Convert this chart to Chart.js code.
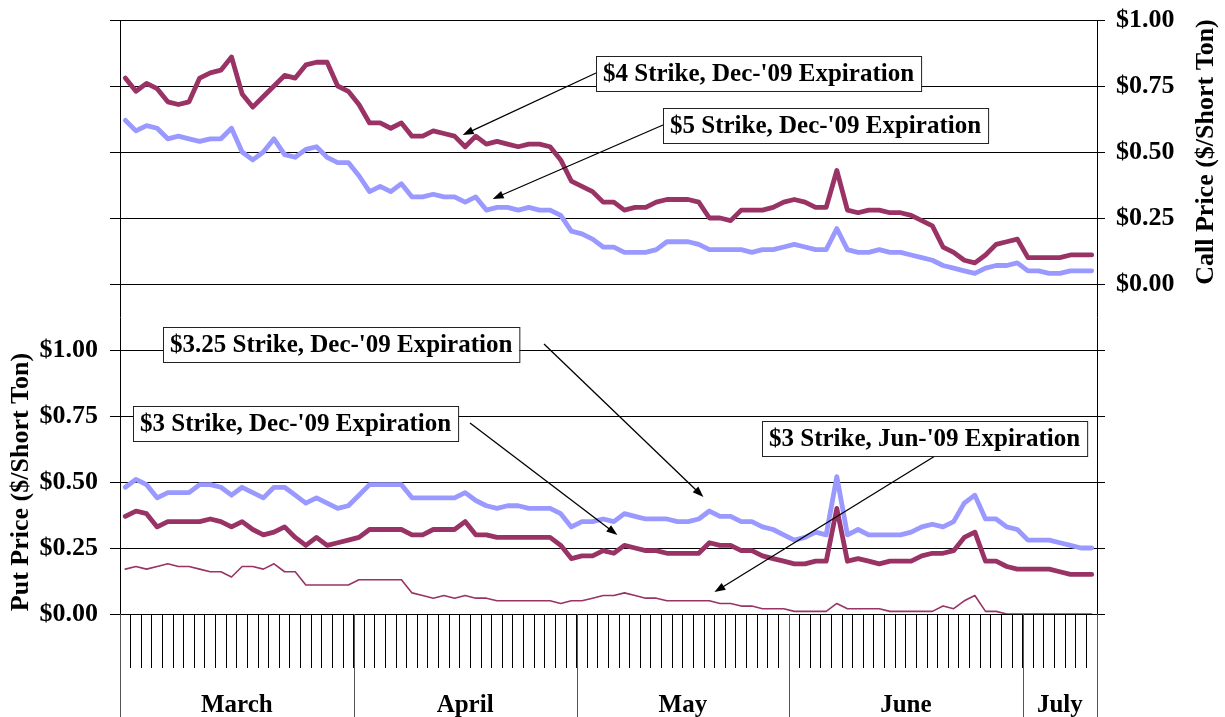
<!DOCTYPE html>
<html>
<head>
<meta charset="utf-8">
<script src="https://cdn.jsdelivr.net/npm/chart.js@4.4.1/dist/chart.umd.min.js"></script>
<style>
  html, body { margin: 0; padding: 0; background: #fff; }
  #wrap { width: 1225px; height: 717px; }
</style>
</head>
<body>
<div id="wrap"><canvas id="chart" width="1225" height="717"></canvas></div>
<script>
// trading days, March - July 2009
const months = ['March', 'April', 'May', 'June', 'July'];
const marchDays = [2,3,4,5,6,9,10,11,12,13,16,17,18,19,20,23,24,25,26,27,30,31];
const aprilDays = [1,2,3,6,7,8,9,13,14,15,16,17,20,21,22,23,24,27,28,29,30];
const mayDays = [1,4,5,6,7,8,11,12,13,14,15,18,19,20,21,22,26,27,28,29];
const juneDays = [1,2,3,4,5,8,9,10,11,12,15,16,17,18,19,22,23,24,25,26,29,30];
const julyDays = [1,2,6,7,8,9,10];

// call prices ($/short ton)
const call4Dec = [
  0.78,0.73,0.76,0.74,0.69,0.68,0.69,0.78,0.80,0.81,
  0.86,0.72,0.67,0.71,0.75,0.79,0.78,0.83,0.84,0.84,
  0.75,0.73,0.68,0.61,0.61,0.59,0.61,0.56,0.56,0.58,
  0.57,0.56,0.52,0.56,0.53,0.54,0.53,0.52,0.53,0.53,
  0.52,0.47,0.39,0.37,0.35,0.31,0.31,0.28,0.29,0.29,
  0.31,0.32,0.32,0.32,0.31,0.25,0.25,0.24,0.28,0.28,
  0.28,0.29,0.31,0.32,0.31,0.29,0.29,0.43,0.28,0.27,
  0.28,0.28,0.27,0.27,0.26,0.24,0.22,0.14,0.12,0.09,
  0.08,0.11,0.15,0.16,0.17,0.10,0.10,0.10,0.10,0.11,
  0.11,0.11
];
const call5Dec = [
  0.62,0.58,0.60,0.59,0.55,0.56,0.55,0.54,0.55,0.55,
  0.59,0.50,0.47,0.50,0.55,0.49,0.48,0.51,0.52,0.48,
  0.46,0.46,0.41,0.35,0.37,0.35,0.38,0.33,0.33,0.34,
  0.33,0.33,0.31,0.33,0.28,0.29,0.29,0.28,0.29,0.28,
  0.28,0.26,0.20,0.19,0.17,0.14,0.14,0.12,0.12,0.12,
  0.13,0.16,0.16,0.16,0.15,0.13,0.13,0.13,0.13,0.12,
  0.13,0.13,0.14,0.15,0.14,0.13,0.13,0.21,0.13,0.12,
  0.12,0.13,0.12,0.12,0.11,0.10,0.09,0.07,0.06,0.05,
  0.04,0.06,0.07,0.07,0.08,0.05,0.05,0.04,0.04,0.05,
  0.05,0.05
];

// put prices ($/short ton)
const put325Dec = [
  0.48,0.51,0.49,0.44,0.46,0.46,0.46,0.49,0.49,0.48,
  0.45,0.48,0.46,0.44,0.48,0.48,0.45,0.42,0.44,0.42,
  0.40,0.41,0.45,0.49,0.49,0.49,0.49,0.44,0.44,0.44,
  0.44,0.44,0.46,0.43,0.41,0.40,0.41,0.41,0.40,0.40,
  0.40,0.38,0.33,0.35,0.35,0.36,0.35,0.38,0.37,0.36,
  0.36,0.36,0.35,0.35,0.36,0.39,0.37,0.37,0.35,0.35,
  0.33,0.32,0.30,0.28,0.29,0.31,0.30,0.52,0.30,0.32,
  0.30,0.30,0.30,0.30,0.31,0.33,0.34,0.33,0.35,0.42,
  0.45,0.36,0.36,0.33,0.32,0.28,0.28,0.28,0.27,0.26,
  0.25,0.25
];
const put3Dec = [
  0.37,0.39,0.38,0.33,0.35,0.35,0.35,0.35,0.36,0.35,
  0.33,0.35,0.32,0.30,0.31,0.33,0.29,0.26,0.29,0.26,
  0.27,0.28,0.29,0.32,0.32,0.32,0.32,0.30,0.30,0.32,
  0.32,0.32,0.35,0.30,0.30,0.29,0.29,0.29,0.29,0.29,
  0.29,0.26,0.21,0.22,0.22,0.24,0.23,0.26,0.25,0.24,
  0.24,0.23,0.23,0.23,0.23,0.27,0.26,0.26,0.24,0.24,
  0.22,0.21,0.20,0.19,0.19,0.20,0.20,0.40,0.20,0.21,
  0.20,0.19,0.20,0.20,0.20,0.22,0.23,0.23,0.24,0.29,
  0.31,0.20,0.20,0.18,0.17,0.17,0.17,0.17,0.16,0.15,
  0.15,0.15
];
const put3Jun = [
  0.17,0.18,0.17,0.18,0.19,0.18,0.18,0.17,0.16,0.16,
  0.14,0.18,0.18,0.17,0.19,0.16,0.16,0.11,0.11,0.11,
  0.11,0.11,0.13,0.13,0.13,0.13,0.13,0.08,0.07,0.06,
  0.07,0.06,0.07,0.06,0.06,0.05,0.05,0.05,0.05,0.05,
  0.05,0.04,0.05,0.05,0.06,0.07,0.07,0.08,0.07,0.06,
  0.06,0.05,0.05,0.05,0.05,0.05,0.04,0.04,0.03,0.03,
  0.02,0.02,0.02,0.01,0.01,0.01,0.01,0.04,0.02,0.02,
  0.02,0.02,0.01,0.01,0.01,0.01,0.01,0.03,0.02,0.05,
  0.07,0.01,0.01,0.00,0.00,0.00,0.00,0.00,0.00,0.00,
  0.00,0.00
];

const putTicks = [0, 0.25, 0.5, 0.75, 1.0];
const callTicks = [0, 0.25, 0.5, 0.75, 1.0];

// calls sit on the upper half of the plot, shifted up by this much
const CALL_OFFSET = 1.25;

const monthDays = [marchDays, aprilDays, mayDays, juneDays, julyDays];
const categories = [];
monthDays.forEach((days, m) => days.forEach(d => categories.push((m + 3) + '/' + d)));

const PLUM = '#993366';
const LAVENDER = '#9999FF';
const SERIF = '"Liberation Serif", "Times New Roman", serif';

const notes = [
  { text: "$4 Strike, Dec-'09 Expiration", left: 596, top: 56, from: [596, 73], tip: [31.77, 0.564 + CALL_OFFSET] },
  { text: "$5 Strike, Dec-'09 Expiration", left: 663, top: 108, from: [663, 125], tip: [34.59, 0.322 + CALL_OFFSET] },
  { text: "$3.25 Strike, Dec-'09 Expiration", left: 163, top: 327, from: [544, 344], tip: [54.44, 0.443] },
  { text: "$3 Strike, Dec-'09 Expiration", left: 133, top: 406, from: [470, 423], tip: [46.34, 0.299] },
  { text: "$3 Strike, Jun-'09 Expiration", left: 762, top: 421, from: [935, 456], tip: [55.47, 0.083] }
];

const extras = {
  id: 'extras',
  afterDraw(chart) {
    const ctx = chart.ctx;
    const area = chart.chartArea;
    const xs = chart.scales.x;
    const ys = chart.scales.y;
    const H = chart.height;
    ctx.save();

    // month separators and names
    let start = 0;
    ctx.strokeStyle = '#555';
    ctx.lineWidth = 1;
    ctx.fillStyle = '#000';
    ctx.font = 'bold 25px ' + SERIF;
    ctx.textAlign = 'center';
    ctx.textBaseline = 'alphabetic';
    const edges = [area.left];
    monthDays.forEach(days => {
      start += days.length;
      if (start < categories.length) {
        edges.push((xs.getPixelForValue(start - 1) + xs.getPixelForValue(start)) / 2);
      } else {
        edges.push(area.right);
      }
    });
    edges.forEach(x => {
      const px = Math.round(x) + 0.5;
      ctx.beginPath();
      ctx.moveTo(px, area.bottom);
      ctx.lineTo(px, H);
      ctx.stroke();
    });
    months.forEach((name, i) => {
      ctx.fillText(name, (edges[i] + edges[i + 1]) / 2, 712);
    });

    // axis titles
    ctx.font = 'bold 26px ' + SERIF;
    ctx.save();
    ctx.translate(21, ys.getPixelForValue(0.5));
    ctx.rotate(-Math.PI / 2);
    ctx.textBaseline = 'middle';
    ctx.fillText('Put Price ($/Short Ton)', 0, 0);
    ctx.restore();
    ctx.save();
    ctx.translate(1206, ys.getPixelForValue(0.5 + CALL_OFFSET));
    ctx.rotate(-Math.PI / 2);
    ctx.textBaseline = 'middle';
    ctx.fillText('Call Price ($/Short Ton)', 0, 0);
    ctx.restore();

    // labelled boxes with arrows
    ctx.font = 'bold 25px ' + SERIF;
    ctx.textAlign = 'left';
    ctx.textBaseline = 'middle';
    notes.forEach(n => {
      const w = ctx.measureText(n.text).width + 14;
      const h = 35;
      const tx = xs.getPixelForValue(n.tip[0]);
      const ty = ys.getPixelForValue(n.tip[1]);
      const [fx, fy] = n.from;
      const ang = Math.atan2(ty - fy, tx - fx);
      const len = 11, half = 4;
      ctx.strokeStyle = '#000';
      ctx.lineWidth = 1.3;
      ctx.beginPath();
      ctx.moveTo(fx, fy);
      ctx.lineTo(tx - Math.cos(ang) * len * 0.8, ty - Math.sin(ang) * len * 0.8);
      ctx.stroke();
      ctx.fillStyle = '#000';
      ctx.beginPath();
      ctx.moveTo(tx, ty);
      ctx.lineTo(tx - Math.cos(ang) * len + Math.sin(ang) * half, ty - Math.sin(ang) * len - Math.cos(ang) * half);
      ctx.lineTo(tx - Math.cos(ang) * len - Math.sin(ang) * half, ty - Math.sin(ang) * len + Math.cos(ang) * half);
      ctx.closePath();
      ctx.fill();

      ctx.fillStyle = '#fff';
      ctx.fillRect(n.left, n.top, w, h);
      ctx.strokeStyle = '#222';
      ctx.lineWidth = 1;
      ctx.strokeRect(n.left + 0.5, n.top + 0.5, w, h);
      ctx.fillStyle = '#000';
      ctx.fillText(n.text, n.left + 7, n.top + h / 2 + 1);
    });
    ctx.restore();
  }
};

const lineStyle = (color, width) => ({
  borderColor: color,
  backgroundColor: color,
  borderWidth: width,
  pointRadius: 0,
  tension: 0,
  borderJoinStyle: 'round',
  borderCapStyle: 'round',
  fill: false
});

// fixed axis sizes, no extra label overhang above/below the plot
const fixWidth = w => s => { s.width = w; s.paddingTop = 0; s.paddingBottom = 0; };

new Chart(document.getElementById('chart'), {
  type: 'line',
  data: {
    labels: categories,
    datasets: [
      { label: "$4 Strike, Dec-'09", data: call4Dec.map(v => v + CALL_OFFSET), ...lineStyle(PLUM, 4.8) },
      { label: "$3 Strike, Dec-'09", data: put3Dec, ...lineStyle(PLUM, 4.8) },
      { label: "$3 Strike, Jun-'09", data: put3Jun, ...lineStyle(PLUM, 1.6) },
      { label: "$5 Strike, Dec-'09", data: call5Dec.map(v => v + CALL_OFFSET), ...lineStyle(LAVENDER, 4.8) },
      { label: "$3.25 Strike, Dec-'09", data: put325Dec, ...lineStyle(LAVENDER, 4.8) }
    ]
  },
  options: {
    responsive: false,
    animation: false,
    layout: { padding: { top: 20, left: 0, right: 0, bottom: 0 } },
    plugins: { legend: { display: false }, tooltip: { enabled: false } },
    scales: {
      x: {
        type: 'category',
        offset: true,
        grid: { offset: true, drawOnChartArea: false, drawTicks: true, tickLength: 54, color: '#000', lineWidth: 1 },
        border: { color: '#000', width: 1 },
        ticks: { display: false },
        afterFit(s) { s.height = 103; s.paddingLeft = 0; s.paddingRight = 0; }
      },
      y: {
        position: 'left',
        min: 0,
        max: 2.25,
        afterBuildTicks(s) {
          s.ticks = [];
          for (let k = 0; k <= 9; k++) s.ticks.push({ value: k * 0.25 });
        },
        grid: { color: '#000', lineWidth: 1, drawTicks: true, tickLength: 10 },
        border: { color: '#000', width: 1 },
        ticks: {
          padding: 12,
          color: '#000',
          font: { family: SERIF, size: 26, weight: 'bold' },
          callback: v => putTicks.includes(v) ? '$' + v.toFixed(2) : ''
        },
        afterFit: fixWidth(120)
      },
      y2: {
        position: 'right',
        min: 0,
        max: 2.25,
        afterBuildTicks(s) {
          s.ticks = [];
          for (let k = 0; k <= 9; k++) s.ticks.push({ value: k * 0.25 });
        },
        grid: { drawOnChartArea: false, color: '#000', lineWidth: 1, drawTicks: true, tickLength: 8 },
        border: { color: '#000', width: 1 },
        ticks: {
          padding: 11,
          color: '#000',
          font: { family: SERIF, size: 26, weight: 'bold' },
          callback: v => v >= CALL_OFFSET && callTicks.includes(v - CALL_OFFSET) ? '$' + (v - CALL_OFFSET).toFixed(2) : ''
        },
        afterFit: fixWidth(128)
      }
    }
  },
  plugins: [extras]
});
</script>
</body>
</html>
